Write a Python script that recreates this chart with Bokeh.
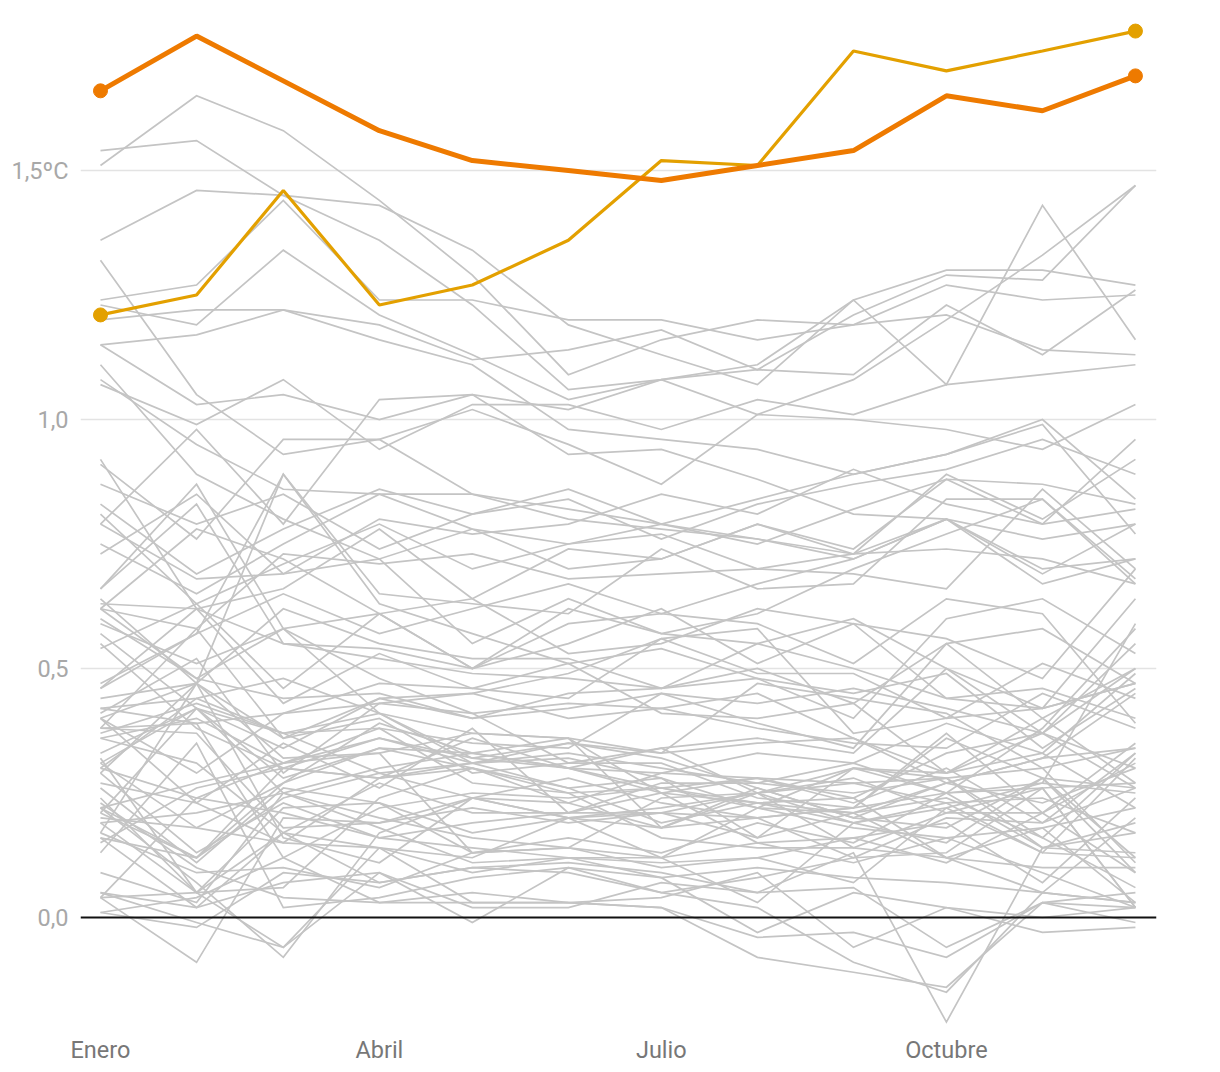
from bokeh.plotting import figure
from bokeh.models import FixedTicker, Span, Label
from bokeh.embed import file_html
from bokeh.resources import INLINE

# ---------------- data ----------------
month_lengths = [31, 28, 31, 30, 31, 30, 31, 31, 30, 31, 30, 31]
month_start_day = [0]
for L in month_lengths[:-1]:
    month_start_day.append(month_start_day[-1] + L)

x_tick_days = [0, 90, 181, 273]
x_tick_labels = ["Enero", "Abril", "Julio", "Octubre"]
y_ticks = [0.0, 0.5, 1.0, 1.5]
y_tick_labels = ["0,0", "0,5", "1,0", "1,5ºC"]

anom_2023 = [1.21, 1.25, 1.46, 1.23, 1.27, 1.36, 1.52, 1.51, 1.74, 1.70, 1.74, 1.78]
anom_2024 = [1.66, 1.77, 1.68, 1.58, 1.52, 1.50, 1.48, 1.51, 1.54, 1.65, 1.62, 1.69]

# earlier years (grey), monthly anomalies in ºC
gray_years = [
    [0.21, 0.42, 0.37, 0.29, 0.31, 0.33, 0.30, 0.27, 0.31, 0.25, 0.38, 0.58],
    [0.40, 0.47, 0.36, 0.44, 0.40, 0.42, 0.45, 0.39, 0.34, 0.55, 0.40, 0.50],
    [0.57, 0.42, 0.25, 0.30, 0.33, 0.30, 0.26, 0.28, 0.27, 0.28, 0.30, 0.34],
    [0.38, 0.58, 0.36, 0.40, 0.29, 0.31, 0.34, 0.36, 0.33, 0.50, 0.42, 0.47],
    [0.62, 0.48, 0.44, 0.45, 0.40, 0.45, 0.46, 0.55, 0.60, 0.50, 0.37, 0.26],
    [0.31, 0.18, 0.27, 0.39, 0.33, 0.36, 0.33, 0.47, 0.44, 0.41, 0.30, 0.11],
    [0.36, 0.40, 0.31, 0.33, 0.13, 0.14, 0.24, 0.25, 0.28, 0.21, 0.26, 0.02],
    [0.21, 0.12, 0.24, 0.29, 0.24, 0.28, 0.23, 0.20, 0.22, 0.36, 0.28, 0.09],
    [0.32, 0.05, 0.06, 0.24, 0.30, 0.25, 0.16, 0.14, 0.14, 0.12, 0.10, 0.10],
    [0.29, 0.13, 0.23, 0.16, 0.14, 0.12, 0.12, 0.15, 0.11, 0.16, 0.09, 0.02],
    [0.05, 0.02, 0.17, 0.07, 0.10, 0.11, 0.09, 0.05, 0.06, -0.06, 0.03, 0.05],
    [0.04, -0.09, 0.20, 0.19, 0.24, 0.20, 0.22, 0.25, 0.30, 0.28, 0.16, 0.33],
    [0.38, 0.39, 0.12, 0.22, 0.25, 0.24, 0.26, 0.23, 0.24, 0.12, 0.05, 0.20],
    [0.29, 0.47, 0.32, 0.33, 0.37, 0.36, 0.25, 0.28, 0.23, 0.30, 0.19, 0.26],
    [0.13, 0.35, 0.02, 0.04, 0.08, 0.10, 0.05, 0.08, 0.12, 0.13, 0.26, 0.02],
    [0.24, 0.05, -0.06, 0.14, 0.03, 0.03, 0.04, 0.09, -0.06, 0.02, -0.03, -0.02],
    [0.01, 0.04, 0.12, 0.03, 0.03, 0.03, 0.02, -0.08, -0.11, -0.14, 0.03, 0.02],
    [0.15, 0.26, 0.30, 0.36, 0.32, 0.35, 0.33, 0.35, 0.36, 0.27, 0.32, 0.45],
    [0.55, 0.38, 0.30, 0.28, 0.36, 0.30, 0.34, 0.25, 0.19, 0.22, 0.27, 0.25],
    [0.30, 0.24, 0.31, 0.38, 0.27, 0.25, 0.26, 0.22, 0.18, 0.16, 0.18, 0.22],
    [0.22, 0.07, -0.08, 0.17, 0.24, 0.20, 0.21, 0.25, 0.27, 0.23, 0.13, 0.32],
    [0.31, 0.42, 0.28, 0.34, 0.30, 0.26, 0.19, 0.23, 0.19, 0.23, 0.24, 0.17],
    [0.36, 0.31, 0.17, 0.27, 0.21, 0.21, 0.21, 0.20, 0.22, 0.25, 0.26, 0.27],
    [0.17, 0.47, 0.16, 0.11, 0.24, 0.23, 0.29, 0.33, 0.31, 0.39, 0.33, 0.22],
    [0.23, 0.10, 0.04, 0.03, 0.05, 0.03, 0.02, -0.04, -0.03, -0.08, 0.03, -0.01],
    [0.17, 0.09, 0.10, 0.06, 0.13, 0.14, 0.10, 0.12, 0.16, 0.19, 0.07, 0.24],
    [0.04, 0.24, 0.21, 0.16, 0.19, 0.21, 0.25, 0.15, 0.16, 0.11, 0.21, 0.09],
    [0.26, 0.11, 0.26, 0.23, 0.13, 0.16, 0.13, 0.19, 0.15, 0.25, 0.14, 0.19],
    [0.09, 0.03, 0.25, 0.18, 0.11, 0.12, 0.11, 0.12, 0.07, 0.22, 0.13, 0.12],
    [0.16, 0.12, 0.27, 0.34, 0.33, 0.30, 0.25, 0.23, 0.21, 0.27, 0.32, 0.34],
    [0.38, 0.37, 0.18, 0.19, 0.22, 0.19, 0.21, 0.16, 0.21, 0.12, 0.18, 0.03],
    [0.16, 0.02, 0.07, 0.09, -0.01, 0.10, 0.08, 0.10, 0.08, 0.07, 0.05, 0.03],
    [0.04, 0.05, 0.17, 0.14, 0.12, 0.20, 0.18, 0.25, 0.14, 0.21, 0.21, 0.31],
    [0.42, 0.44, 0.48, 0.41, 0.31, 0.32, 0.28, 0.22, 0.21, 0.24, 0.16, 0.06],
    [0.01, -0.02, 0.09, 0.07, 0.10, 0.09, 0.05, 0.02, -0.09, -0.15, 0.05, 0.03],
    [0.20, 0.18, 0.15, 0.14, 0.09, 0.12, 0.08, -0.03, 0.05, 0.02, 0.00, 0.02],
    [0.05, -0.01, -0.06, 0.09, 0.02, 0.02, 0.07, 0.05, 0.13, -0.21, 0.14, 0.17],
    [0.22, 0.27, 0.31, 0.36, 0.31, 0.35, 0.32, 0.26, 0.20, 0.18, 0.28, 0.12],
    [0.19, 0.21, 0.25, 0.20, 0.16, 0.14, 0.12, 0.03, 0.19, 0.15, 0.28, 0.26],
    [0.19, 0.05, 0.22, 0.23, 0.17, 0.20, 0.12, 0.22, 0.30, 0.29, 0.37, 0.50],
    [0.33, 0.42, 0.34, 0.44, 0.45, 0.40, 0.42, 0.38, 0.35, 0.34, 0.45, 0.38],
    [0.60, 0.48, 0.58, 0.48, 0.41, 0.43, 0.42, 0.45, 0.36, 0.29, 0.33, 0.49],
    [0.27, 0.23, 0.15, 0.28, 0.31, 0.26, 0.28, 0.16, 0.30, 0.25, 0.27, 0.59],
    [0.63, 0.62, 0.55, 0.52, 0.49, 0.48, 0.46, 0.50, 0.43, 0.29, 0.40, 0.27],
    [0.40, 0.23, 0.35, 0.26, 0.38, 0.21, 0.27, 0.27, 0.25, 0.28, 0.14, 0.13],
    [0.22, 0.12, 0.30, 0.28, 0.30, 0.23, 0.18, 0.26, 0.20, 0.27, 0.23, 0.30],
    [0.37, 0.43, 0.37, 0.41, 0.32, 0.30, 0.29, 0.28, 0.24, 0.33, 0.37, 0.30],
    [0.41, 0.52, 0.29, 0.43, 0.45, 0.49, 0.56, 0.49, 0.49, 0.40, 0.42, 0.64],
    [0.64, 0.47, 0.62, 0.55, 0.52, 0.52, 0.46, 0.48, 0.45, 0.49, 0.34, 0.46],
    [0.30, 0.44, 0.37, 0.38, 0.35, 0.34, 0.45, 0.43, 0.46, 0.42, 0.37, 0.55],
    [0.44, 0.47, 0.89, 0.63, 0.57, 0.51, 0.54, 0.48, 0.40, 0.60, 0.64, 0.53],
    [0.54, 0.63, 0.46, 0.61, 0.50, 0.62, 0.57, 0.55, 0.50, 0.44, 0.42, 0.47],
    [0.59, 0.51, 0.58, 0.41, 0.37, 0.36, 0.18, 0.20, 0.12, 0.20, 0.19, 0.33],
    [0.42, 0.39, 0.41, 0.43, 0.41, 0.31, 0.31, 0.24, 0.22, 0.37, 0.21, 0.35],
    [0.40, 0.29, 0.41, 0.47, 0.46, 0.51, 0.41, 0.40, 0.43, 0.55, 0.58, 0.47],
    [0.66, 0.87, 0.58, 0.61, 0.50, 0.59, 0.61, 0.59, 0.51, 0.64, 0.61, 0.39],
    [0.46, 0.62, 0.43, 0.53, 0.46, 0.44, 0.56, 0.58, 0.37, 0.40, 0.51, 0.44],
    [0.47, 0.57, 0.65, 0.57, 0.62, 0.67, 0.61, 0.67, 0.72, 0.80, 0.76, 0.79],
    [0.79, 0.98, 0.79, 1.04, 1.05, 0.93, 0.94, 0.88, 0.81, 0.80, 0.69, 0.79],
    [0.66, 0.83, 0.55, 0.54, 0.50, 0.55, 0.62, 0.51, 0.59, 0.56, 0.48, 0.70],
    [0.92, 0.62, 0.66, 0.78, 0.64, 0.53, 0.55, 0.62, 0.59, 0.44, 0.46, 0.40],
    [0.62, 0.58, 0.73, 0.71, 0.73, 0.68, 0.69, 0.70, 0.69, 0.66, 0.86, 0.70],
    [1.08, 0.95, 0.86, 0.85, 0.78, 0.75, 0.77, 0.70, 0.73, 0.74, 0.72, 0.67],
    [1.11, 0.89, 0.80, 0.72, 0.78, 0.70, 0.72, 0.79, 0.73, 0.89, 0.80, 0.92],
    [0.73, 0.85, 0.69, 0.72, 0.55, 0.64, 0.57, 0.61, 0.70, 0.77, 0.84, 0.67],
    [0.83, 0.69, 0.78, 0.86, 0.81, 0.86, 0.79, 0.75, 0.82, 0.88, 0.87, 0.83],
    [0.62, 0.78, 0.72, 0.61, 0.64, 0.74, 0.72, 0.79, 0.74, 0.88, 0.79, 0.96],
    [1.32, 1.05, 0.93, 0.96, 0.85, 0.80, 0.78, 0.76, 0.73, 0.80, 0.70, 0.72],
    [0.46, 0.57, 0.89, 0.65, 0.63, 0.61, 0.74, 0.66, 0.67, 0.84, 0.84, 0.68],
    [0.79, 0.68, 0.69, 0.80, 0.77, 0.79, 0.85, 0.81, 0.90, 0.83, 0.79, 0.82],
    [1.15, 1.17, 1.22, 1.16, 1.11, 0.98, 0.96, 0.94, 0.89, 0.93, 1.00, 0.84],
    [0.81, 0.63, 0.71, 0.79, 0.70, 0.75, 0.79, 0.76, 0.72, 0.80, 0.67, 0.72],
    [0.75, 0.65, 0.75, 0.85, 0.85, 0.82, 0.79, 0.84, 0.89, 0.93, 0.99, 0.77],
    [0.87, 0.79, 0.85, 0.74, 0.81, 0.84, 0.76, 0.83, 0.87, 0.90, 0.96, 0.89],
    [0.91, 0.76, 0.96, 0.96, 1.02, 0.95, 0.87, 1.01, 1.00, 0.98, 0.94, 1.03],
    [1.07, 0.99, 1.08, 0.94, 1.03, 1.03, 0.98, 1.04, 1.01, 1.07, 1.09, 1.11],
    [1.51, 1.65, 1.58, 1.44, 1.29, 1.09, 1.16, 1.20, 1.19, 1.21, 1.14, 1.13],
    [1.36, 1.46, 1.45, 1.43, 1.34, 1.19, 1.13, 1.07, 1.24, 1.30, 1.30, 1.27],
    [1.20, 1.22, 1.22, 1.19, 1.12, 1.14, 1.18, 1.10, 1.21, 1.29, 1.28, 1.47],
    [1.24, 1.27, 1.44, 1.24, 1.24, 1.20, 1.20, 1.16, 1.19, 1.27, 1.24, 1.25],
    [1.54, 1.56, 1.45, 1.36, 1.23, 1.06, 1.08, 1.11, 1.24, 1.07, 1.43, 1.16],
    [1.15, 1.03, 1.05, 1.00, 1.05, 1.02, 1.08, 1.01, 1.08, 1.20, 1.33, 1.47],
    [1.23, 1.19, 1.34, 1.21, 1.13, 1.04, 1.08, 1.10, 1.09, 1.23, 1.13, 1.26],
]

# ---------------- styling ----------------
FONT = "Roboto"
GRAY = "#c4c4c4"
C2023 = "#e3a000"
C2024 = "#ee7a00"

p = figure(
    width=1220, height=1072,
    x_range=(-6.45, 340.8), y_range=(-0.2269, 1.8213),
    output_backend="svg", toolbar_location=None,
    min_border_left=80, min_border_right=64,
    min_border_top=10, min_border_bottom=42,
)
p.outline_line_color = None
p.background_fill_color = "white"
p.border_fill_color = "white"

# axes
p.xaxis.ticker = FixedTicker(ticks=x_tick_days)
p.xaxis.major_label_overrides = {d: t for d, t in zip(x_tick_days, x_tick_labels)}
p.yaxis.ticker = FixedTicker(ticks=y_ticks)
p.yaxis.major_label_overrides = {v: t for v, t in zip(y_ticks, y_tick_labels)}
for ax in (p.xaxis[0], p.yaxis[0]):
    ax.axis_line_color = None
    ax.major_tick_line_color = None
    ax.minor_tick_line_color = None
    ax.major_tick_out = 0
    ax.major_tick_in = 0
    ax.major_label_text_font = FONT
    ax.major_label_text_font_size = "23.5px"
p.xaxis.major_label_text_color = "#777777"
p.xaxis.major_label_standoff = 5
p.yaxis.major_label_text_color = "#a8a8a8"
p.yaxis.major_label_standoff = 12

p.xgrid.grid_line_color = None
p.ygrid.ticker = FixedTicker(ticks=[v for v in y_ticks if v != 0])
p.ygrid.grid_line_color = "#e3e3e3"
p.ygrid.grid_line_width = 1.5

# grey years
xs = [month_start_day for _ in gray_years]
p.multi_line(xs=xs, ys=gray_years, line_color=GRAY, line_width=1.7, line_join="miter")

# zero line
p.add_layout(Span(location=0, dimension="width", line_color="#111111", line_width=2))

# highlighted years
p.line(month_start_day, anom_2023, line_color=C2023, line_width=3.2)
p.line(month_start_day, anom_2024, line_color=C2024, line_width=5)

for series, col in ((anom_2023, C2023), (anom_2024, C2024)):
    p.scatter([month_start_day[0], month_start_day[-1]], [series[0], series[-1]],
              size=14, fill_color=col, line_color=col)

for series, name in ((anom_2023, "2023"), (anom_2024, "2024")):
    p.add_layout(Label(x=month_start_day[-1], y=series[-1], text=name,
                       x_offset=21, text_align="left", text_baseline="middle",
                       text_font=FONT, text_font_size="24px", text_color="#222222"))

open("out.html", "w").write(file_html(p, INLINE))
